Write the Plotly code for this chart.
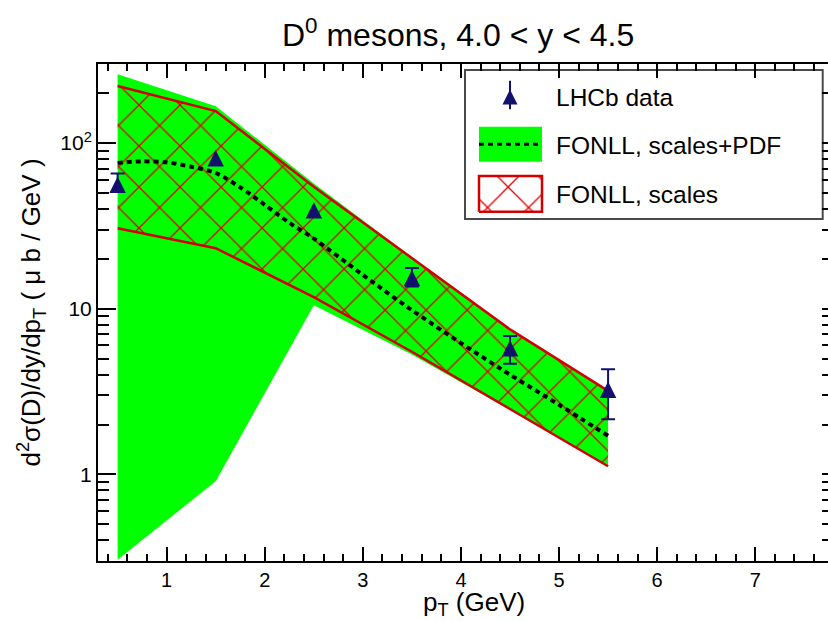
import math
import plotly.graph_objects as go

# FONLL predictions for D0 production, 4.0 < y < 4.5 (mub/GeV)
pt = [0.5, 1.5, 2.5, 3.5, 4.5, 5.5]
pdf_hi = [260, 167, 57, 20.5, 7.6, 3.2]      # scales+PDF band, upper edge
pdf_lo = [0.305, 0.91, 10.5, 5.3, 2.45, 1.11]  # scales+PDF band, lower edge
sc_hi = [221, 156, 54.4, 20.3, 7.5, 3.19]    # scales-only band, upper edge
sc_lo = [30.6, 23.2, 11.75, 5.5, 2.48, 1.12]  # scales-only band, lower edge

# central FONLL curve
central_pt = [0.5, 0.75, 1.0, 1.25, 1.5, 1.75, 2.0, 2.25, 2.5, 3.0, 3.5, 4.0, 4.5, 5.0, 5.5]
central = [75.9, 77.5, 76.5, 72, 66, 54, 42.4, 33, 26.5, 16, 9.8, 6.2, 4.0, 2.63, 1.71]

# LHCb measurements with asymmetric uncertainties (None: bar hidden by the symbol)
lhcb = [56, 81, 39.3, 15.3, 5.77, 3.24]
lhcb_up = [9.5, None, None, 2.3, 1.07, 1.07]
lhcb_dn = [5.3, None, None, 1.7, 1.11, 1.09]

x_major = [1, 2, 3, 4, 5, 6, 7]
y_major = [1, 10, 100]
y_major_text = ["1", "10", "10<sup>2</sup>"]
y_minor = [0.3, 0.4, 0.5, 0.6, 0.7, 0.8, 0.9,
           2, 3, 4, 5, 6, 7, 8, 9,
           20, 30, 40, 50, 60, 70, 80, 90, 200, 300]

FONT = "Liberation Sans, Arial, Helvetica, sans-serif"
NAVY = "#12126e"
GREEN = "#00ff00"
RED = "#d40000"
HATCH = "#e00000"
TRI = 16.5  # triangle symbol size (px)

W, H = 828, 621
L, R, T, B = 98, 0, 64, 60


def px(xp):
    return (xp - L) / (W - L - R)


def py(yp):
    return (H - B - yp) / (H - T - B)


hatch = dict(shape="x", fgcolor=HATCH, fgopacity=1, bgcolor="rgba(0,0,0,0)",
             size=29, solidity=0.09)
# an up-pointing triangle centred on its point: arrow-down turned by 180 deg
tri = dict(symbol="arrow-down", angle=180, color=NAVY, line=dict(width=0))

fig = go.Figure()

# scales+PDF band
fig.add_trace(go.Scatter(
    x=pt + pt[::-1], y=pdf_hi + pdf_lo[::-1],
    fill="toself", fillcolor=GREEN, line=dict(width=0),
    mode="lines", hoverinfo="skip", showlegend=False))

# scales band (hatched)
fig.add_trace(go.Scatter(
    x=pt + pt[::-1], y=sc_hi + sc_lo[::-1],
    fill="toself", fillcolor="rgba(0,0,0,0)", fillpattern=hatch,
    line=dict(width=0), mode="lines", hoverinfo="skip", showlegend=False))
for edge in (sc_hi, sc_lo):
    fig.add_trace(go.Scatter(x=pt, y=edge, mode="lines",
                             line=dict(color=RED, width=2.5),
                             hoverinfo="skip", showlegend=False))

# central curve
fig.add_trace(go.Scatter(
    x=central_pt, y=central, mode="lines",
    line=dict(color="black", width=4, dash="5px,4px", shape="spline", smoothing=0.8),
    hoverinfo="skip", showlegend=False))

# data: error bars for the points where they show, then the symbols
with_err = [i for i, e in enumerate(lhcb_up) if e is not None]
fig.add_trace(go.Scatter(
    x=[pt[i] for i in with_err], y=[lhcb[i] for i in with_err], mode="markers",
    marker=dict(size=2, opacity=0),
    error_y=dict(type="data", symmetric=False,
                 array=[lhcb_up[i] for i in with_err],
                 arrayminus=[lhcb_dn[i] for i in with_err],
                 color=NAVY, thickness=2, width=7),
    hoverinfo="skip", showlegend=False))
fig.add_trace(go.Scatter(
    x=pt, y=lhcb, mode="markers",
    marker=dict(size=TRI, standoff=TRI / 2, **tri),
    showlegend=False))

# tick stubs on the right-hand side
fig.add_trace(go.Scatter(x=[None], y=[None], yaxis="y3", showlegend=False,
                         hoverinfo="skip"))

# legend glyphs, drawn on an overlay with unit ranges
lx0, lx1 = px(479), px(542)
fig.add_trace(go.Scatter(
    x=[px(510), px(510)], y=[py(80.7), py(109.3)], xaxis="x2", yaxis="y2",
    mode="lines", line=dict(color=NAVY, width=2), showlegend=False, hoverinfo="skip"))
fig.add_trace(go.Scatter(
    x=[px(510)], y=[py(97)], xaxis="x2", yaxis="y2", mode="markers",
    marker=dict(size=15, standoff=7.5, **tri),
    showlegend=False, hoverinfo="skip"))
fig.add_trace(go.Scatter(
    x=[lx0, lx1, lx1, lx0, lx0],
    y=[py(211.7), py(211.7), py(176), py(176), py(211.7)],
    xaxis="x2", yaxis="y2", fill="toself", fillcolor="rgba(0,0,0,0)", fillpattern=hatch,
    mode="lines", line=dict(color=RED, width=2.5), showlegend=False, hoverinfo="skip"))

shapes = [
    dict(type="rect", xref="paper", yref="paper", x0=px(465), x1=px(822.7),
         y0=py(219), y1=py(70), line=dict(color="#4a4a4a", width=2),
         fillcolor="white", layer="below"),
    dict(type="rect", xref="paper", yref="paper", x0=lx0, x1=lx1,
         y0=py(161.7), y1=py(126.7), line=dict(width=0), fillcolor=GREEN, layer="above"),
    dict(type="line", xref="paper", yref="paper", x0=lx0, x1=lx1,
         y0=py(144.3), y1=py(144.3), line=dict(color="black", width=3, dash="5px,4px"),
         layer="above"),
]

annotations = [
    dict(text="D<sup>0</sup> mesons, 4.0 < y < 4.5", x=px(457.5), y=py(33),
         xref="paper", yref="paper", showarrow=False, xanchor="center", yanchor="middle",
         font=dict(family=FONT, size=32, color="black")),
    dict(text="p<sub>T</sub> (GeV)", x=px(474), y=py(603),
         xref="paper", yref="paper", showarrow=False, xanchor="center", yanchor="middle",
         font=dict(family=FONT, size=26, color="black")),
    dict(text="d<sup>2</sup>σ(D)/dy/dp<sub>T</sub> ( μ b / GeV )", x=px(31), y=0.5,
         xref="paper", yref="paper", showarrow=False, textangle=-90,
         xanchor="center", yanchor="middle",
         font=dict(family=FONT, size=26, color="black")),
]
for label, yy in (("LHCb data", 97), ("FONLL, scales+PDF", 145), ("FONLL, scales", 195)):
    annotations.append(dict(text=label, x=px(554), y=py(yy), xref="paper", yref="paper",
                            showarrow=False, xanchor="left", yanchor="middle",
                            font=dict(family=FONT, size=24.5, color="black")))

fig.update_layout(
    width=W, height=H,
    margin=dict(l=L, r=R, t=T, b=B, pad=0),
    paper_bgcolor="white", plot_bgcolor="white",
    font=dict(family=FONT, color="black"),
    shapes=shapes, annotations=annotations,
    xaxis=dict(
        range=[0.3, 7.742], tickmode="array", tickvals=x_major,
        ticks="inside", ticklen=14, tickwidth=2, tickcolor="black",
        minor=dict(tickmode="linear", tick0=0, dtick=0.2, ticks="inside",
                   ticklen=7, tickwidth=2, tickcolor="black", showgrid=False),
        showline=True, linecolor="black", linewidth=2, mirror="ticks",
        showgrid=False, zeroline=False,
        tickfont=dict(family=FONT, size=20, color="black"),
    ),
    yaxis=dict(
        type="log", range=[math.log10(0.3), math.log10(300)],
        tickmode="array", tickvals=y_major, ticktext=y_major_text,
        ticks="inside", ticklen=18, tickwidth=2, tickcolor="black",
        minor=dict(tickmode="array", tickvals=y_minor, ticks="inside",
                   ticklen=11, tickwidth=2, tickcolor="black", showgrid=False),
        showline=True, linecolor="black", linewidth=2, mirror=False,
        showgrid=False, zeroline=False,
        tickfont=dict(family=FONT, size=21, color="black"),
    ),
    yaxis3=dict(
        type="log", range=[math.log10(0.3), math.log10(300)], overlaying="y",
        side="right", anchor="x", tickmode="array", tickvals=y_major + y_minor,
        ticks="inside", ticklen=6, tickwidth=2, tickcolor="black",
        showticklabels=False, showline=False, showgrid=False, zeroline=False,
    ),
    xaxis2=dict(range=[0, 1], overlaying="x", visible=False, fixedrange=True),
    yaxis2=dict(range=[0, 1], overlaying="y", visible=False, fixedrange=True),
)

fig.write_html("out.html")
